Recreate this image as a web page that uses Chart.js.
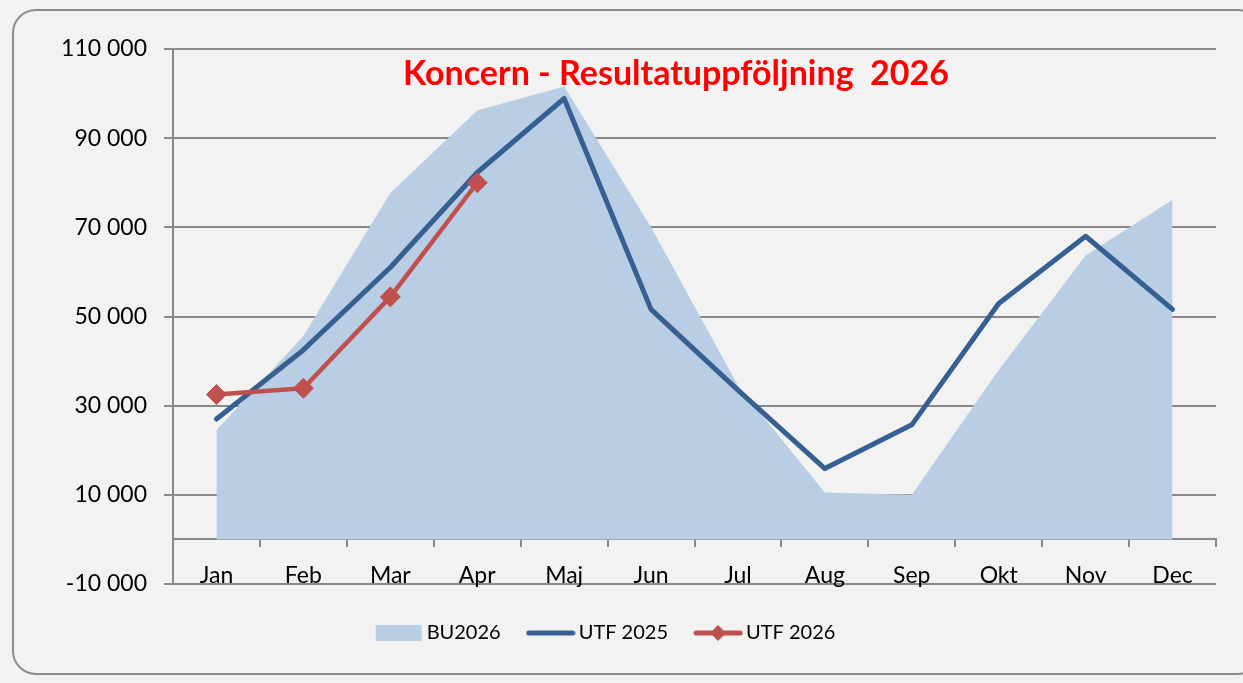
<!DOCTYPE html>
<html>
<head>
<meta charset="utf-8">
<script src="https://cdn.jsdelivr.net/npm/chart.js@4/dist/chart.umd.min.js"></script>
<style>
  html, body { margin: 0; padding: 0; background: #f2f2f2; width: 1243px; height: 683px; overflow: hidden; }
  #frame { position: absolute; left: 12px; top: 9px; width: 1250px; height: 666px; border: 2px solid #8c8c8c; border-radius: 24px; box-sizing: border-box; }
  #wrap { position: absolute; left: 0; top: 0; width: 1243px; height: 683px; }
</style>
</head>
<body>
<div id="frame"></div>
<div id="wrap"><canvas id="c" width="1243" height="683"></canvas></div>
<script>
const chartTitle = 'Koncern - Resultatuppföljning  2026';
const categories = ['Jan', 'Feb', 'Mar', 'Apr', 'Maj', 'Jun', 'Jul', 'Aug', 'Sep', 'Okt', 'Nov', 'Dec'];
const seriesNames = ['BU2026', 'UTF 2025', 'UTF 2026'];
const bu2026 = [24500, 45600, 77700, 96200, 101600, 70000, 34500, 10500, 10000, 38000, 63700, 76200];
const utf2025 = [27000, 42500, 61000, 82300, 98900, 51600, 33500, 15900, 25700, 52900, 68000, 51600];
const utf2026 = [32500, 33900, 54400, 80000, null, null, null, null, null, null, null, null];
const yTickValues = [-10000, 10000, 30000, 50000, 70000, 90000, 110000];

const COL_AREA = '#b9cde5';
const COL_BLUE = '#376092';
const COL_RED = '#c0504d';
const COL_GRID = '#898989';
const FONT = 'Lato';

function fmt(v) {
  const s = String(Math.abs(v)).replace(/\B(?=(\d{3})+(?!\d))/g, ' ');
  return (v < 0 ? '-' : '') + s;
}

function swatch(kind, color) {
  const c = document.createElement('canvas');
  c.width = 50; c.height = 20;
  const g = c.getContext('2d');
  if (kind === 'area') {
    g.fillStyle = color;
    g.fillRect(2, 2, 46, 16);
  } else {
    g.strokeStyle = color;
    g.lineWidth = 5;
    g.lineCap = 'round';
    g.beginPath(); g.moveTo(3, 10); g.lineTo(47, 10); g.stroke();
    if (kind === 'marker') {
      g.fillStyle = color;
      g.beginPath();
      g.moveTo(25, 2); g.lineTo(33, 10); g.lineTo(25, 18); g.lineTo(17, 10); g.closePath();
      g.fill();
    }
  }
  return c;
}
const swatches = [swatch('area', COL_AREA), swatch('line', COL_BLUE), swatch('marker', COL_RED)];

const titlePlugin = {
  id: 'innerTitle',
  afterDraw(chart) {
    const ctx = chart.ctx;
    ctx.save();
    ctx.font = 'bold 34px ' + FONT;
    ctx.fillStyle = '#ff0000';
    ctx.textAlign = 'center';
    ctx.textBaseline = 'alphabetic';
    ctx.fillText(chartTitle, 676, 85);
    ctx.restore();
  }
};

new Chart(document.getElementById('c'), {
  type: 'line',
  data: {
    labels: categories,
    datasets: [
      {
        label: seriesNames[0], data: bu2026, order: 3,
        fill: 'origin', backgroundColor: COL_AREA, borderWidth: 0, borderColor: 'rgba(0,0,0,0)',
        pointRadius: 0, tension: 0
      },
      {
        label: seriesNames[1], data: utf2025, order: 2,
        fill: false, borderColor: COL_BLUE, borderWidth: 5, borderCapStyle: 'round', borderJoinStyle: 'round',
        pointRadius: 0, tension: 0
      },
      {
        label: seriesNames[2], data: utf2026, order: 1,
        fill: false, borderColor: COL_RED, borderWidth: 4.5, borderJoinStyle: 'round',
        pointStyle: 'rectRot', pointRadius: 10, pointBackgroundColor: COL_RED, pointBorderColor: COL_RED, pointBorderWidth: 1,
        tension: 0
      }
    ]
  },
  options: {
    responsive: false,
    animation: false,
    events: [],
    layout: { padding: { left: 0, right: 27, top: 49, bottom: 30 } },
    plugins: {
      title: { display: false },
      tooltip: { enabled: false },
      legend: {
        display: true,
        position: 'bottom',
        align: 'center',
        labels: {
          usePointStyle: true,
          pointStyleWidth: 36,
          padding: 32,
          color: '#000',
          font: { family: FONT, size: 20 },
          generateLabels: () => seriesNames.map((n, i) => ({
            text: n, pointStyle: swatches[i], fillStyle: 'rgba(0,0,0,0)', strokeStyle: 'rgba(0,0,0,0)',
            lineWidth: 0, hidden: false, datasetIndex: i, fontColor: '#000'
          }))
        }
      }
    },
    scales: {
      x: {
        type: 'category',
        position: { y: 0 },
        offset: true,
        grid: { display: true, offset: true, drawOnChartArea: false, drawTicks: true, tickLength: 7, color: COL_GRID, lineWidth: 2 },
        border: { display: true, color: COL_GRID, width: 2 },
        ticks: { color: '#000', font: { family: FONT, size: 23 }, padding: 15, maxRotation: 0, autoSkip: false }
      },
      x2: {
        type: 'category',
        position: 'bottom',
        display: true,
        grid: { display: false },
        border: { display: false },
        ticks: { display: false },
        afterFit: (s) => { s.height = 7; }
      },
      y: {
        type: 'linear',
        position: 'left',
        min: -10000,
        max: 110000,
        afterBuildTicks: (s) => { s.ticks = yTickValues.map(v => ({ value: v })); },
        afterFit: (s) => { s.width = 173; },
        grid: { color: COL_GRID, lineWidth: 2, tickLength: 9, drawTicks: true },
        border: { display: true, color: COL_GRID, width: 2 },
        ticks: { color: '#000', font: { family: FONT, size: 23 }, padding: 17, callback: (v) => fmt(v) }
      }
    }
  },
  plugins: [titlePlugin]
});
</script>
</body>
</html>
